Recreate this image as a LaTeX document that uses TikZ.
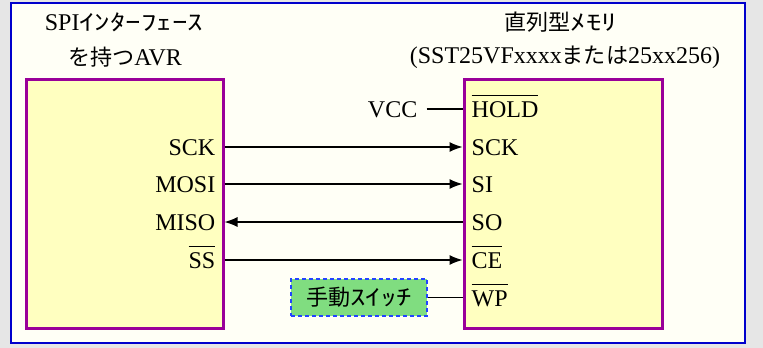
\documentclass[tikz,border=0pt]{standalone}
\usepackage{fontspec}
\setmainfont{Liberation Serif}
\newfontfamily\jpfont{Noto Sans CJK JP}[Scale=0.92]
\newfontfamily\hwfont{Noto Sans CJK JP}[Scale=0.92,FakeStretch=1.4]
\usetikzlibrary{
  arrows.meta,%
  positioning,%
  calc
}
\definecolor{pagebg}{HTML}{E6E6E6}
\definecolor{framebg}{HTML}{FFFFF6}
\definecolor{frameline}{HTML}{0000CC}
\definecolor{chipfill}{HTML}{FFFFC0}
\definecolor{chipline}{HTML}{990099}
\definecolor{swfill}{HTML}{80DD80}
\definecolor{swline}{HTML}{2244FF}
\tikzset{>={Latex[length=13pt,width=10pt]}}
\tikzset{font=\fontsize{24}{28}\selectfont}
\tikzset{chip/.style={draw=chipline, line width=3pt, fill=chipfill,
    minimum height=249pt, inner sep=0pt}}
\tikzset{pin/.style={inner sep=0pt}}
\tikzset{wire/.style={line width=1.2pt}}
\tikzset{switchbox/.style={draw=swline, dashed, dash pattern=on 4pt off 3pt,
    line width=1.5pt, fill=swfill, minimum width=136pt, minimum height=37pt,
    inner sep=0pt}}
\newcommand{\ovl}[1]{$\overline{\mbox{\rule{0pt}{20pt}#1}}$}

\begin{document}
\begin{tikzpicture}[x=1pt,y=-1pt]
  \useasboundingbox (0,0) rectangle (763,348);
  \fill[pagebg] (0,0) rectangle (763,348);
  \draw[frameline, line width=1.5pt, fill=framebg] (11,3) rectangle (745,343);

  % the two chips
  \node[chip, minimum width=197pt] (avr) at (124.5,203.5) {};
  \node[chip, minimum width=198pt] (mem) at (563,203.5) {};

  % titles
  \node[anchor=base] (avr-t1) at (124,30) {SPI{\hwfont ｲﾝﾀｰﾌｪｰｽ}};
  \node[anchor=base] (avr-t2) at (125,65) {{\jpfont を持つ}AVR};
  \node[anchor=base] (mem-t1) at (561,30) {{\jpfont 直列型}{\hwfont ﾒﾓﾘ}};
  \node[anchor=base] (mem-t2) at (565,63) {(SST25VFxxxx{\jpfont または}25xx256)};

  % rows
  \foreach \name/\y in {hold/109, sck/147, mosi/184, miso/222, ss/260, wp/298}
    \coordinate (r-\name) at (0,\y);

  % avr pins
  \foreach \name/\txt in {sck/SCK, mosi/MOSI, miso/MISO, ss/\ovl{SS}}
    \node[pin, anchor=base east] (a-\name) at ([xshift=-9pt,yshift=-8pt]avr.east |- r-\name) {\txt};

  % memory pins
  \foreach \name/\txt in {hold/\ovl{HOLD}, sck/SCK, mosi/SI, miso/SO, ss/\ovl{CE}, wp/\ovl{WP}}
    \node[pin, anchor=base west] (m-\name) at ([xshift=9pt,yshift=-8pt]mem.west |- r-\name) {\txt};

  % connections
  \draw[wire,->] (avr.east |- r-sck) -- (mem.west |- r-sck);
  \draw[wire,->] (avr.east |- r-mosi) -- (mem.west |- r-mosi);
  \draw[wire,<-] (avr.east |- r-miso) -- (mem.west |- r-miso);
  \draw[wire,->] (avr.east |- r-ss) -- (mem.west |- r-ss);

  \node[pin, anchor=base east] (vcc) at ([xshift=-45pt,yshift=-8pt]mem.west |- r-hold) {VCC};
  \draw[wire] ([xshift=9pt]vcc.east |- r-hold) -- (mem.west |- r-hold);

  \node[switchbox] (sw) at (359,297.5) {{\jpfont 手動}{\hwfont ｽｲｯﾁ}};
  \draw[wire] (sw.east) -- (mem.west |- sw.east);
\end{tikzpicture}
\end{document}
